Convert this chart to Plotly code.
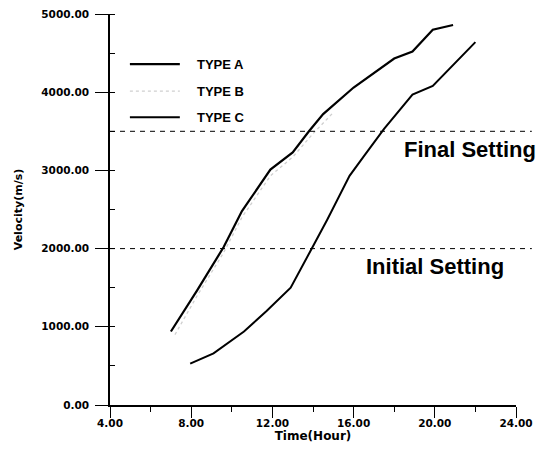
import plotly.graph_objects as go

# ---- data ----
type_a_x = [7.0, 8.3, 9.6, 10.5, 11.9, 13.0, 13.8, 14.5, 16.0, 16.8, 18.0, 18.9, 19.9, 20.9]
type_a_y = [940, 1470, 2020, 2480, 3010, 3230, 3500, 3720, 4060, 4210, 4430, 4520, 4800, 4860]

type_b_x = [7.2, 8.3, 9.6, 10.5, 11.9, 13.0, 14.0, 15.0]
type_b_y = [900, 1400, 1950, 2400, 2930, 3170, 3470, 3740]

type_c_x = [7.95, 9.1, 10.6, 11.7, 12.9, 13.4, 14.0, 14.7, 15.8, 16.5, 17.5, 18.9, 19.9, 22.0]
type_c_y = [530, 660, 940, 1200, 1500, 1750, 2030, 2370, 2930, 3180, 3530, 3970, 4080, 4640]

series_names = ["TYPE A", "TYPE B", "TYPE C"]
setting_values = [3500, 2000]
setting_labels = ["Final Setting", "Initial Setting"]
x_range = [4, 24]
y_range = [0, 5000]

TICK_FONT = dict(family="DejaVu Sans", size=10.5, color="black", weight="bold")

fig = go.Figure()
styles = [
    dict(color="black", width=2.2),
    dict(color="#cfcfcf", width=1.3, dash="dot"),
    dict(color="black", width=2.0),
]
for name, xs, ys, st in zip(series_names, [type_a_x, type_b_x, type_c_x],
                            [type_a_y, type_b_y, type_c_y], styles):
    fig.add_trace(go.Scatter(x=xs, y=ys, mode="lines", name=name, line=st,
                             showlegend=False))

# Horizontal setting lines (paper coords derived from the y range)
for v in setting_values:
    yp = (v - y_range[0]) / (y_range[1] - y_range[0])
    fig.add_shape(type="line", xref="paper", yref="paper", x0=0, x1=1.039,
                  y0=yp, y1=yp, line=dict(color="black", width=1, dash="5px,5px"))

# Setting labels
fig.add_annotation(x=18.38, y=3269, xref="x", yref="y", text=setting_labels[0],
                   showarrow=False, xanchor="left", yanchor="middle",
                   font=dict(family="Liberation Sans", size=22, color="black", weight="bold"))
fig.add_annotation(x=16.51, y=1769, xref="x", yref="y", text=setting_labels[1],
                   showarrow=False, xanchor="left", yanchor="middle",
                   font=dict(family="Liberation Sans", size=22, color="black", weight="bold"))

# Manual legend
leg_rows = [0.872, 0.803, 0.736]
for name, st, yy in zip(series_names, styles, leg_rows):
    fig.add_shape(type="line", xref="paper", yref="paper", x0=0.049, x1=0.172,
                  y0=yy, y1=yy, line=st)
    fig.add_annotation(x=0.209, y=yy, xref="paper", yref="paper", text=name,
                       showarrow=False, xanchor="left", yanchor="middle",
                       font=dict(family="Liberation Sans", size=13, color="black", weight="bold"))

# page body has an 8px default margin -> compensate
fig.update_layout(
    width=540, height=445,
    margin=dict(l=102, r=32, t=6, b=48),
    plot_bgcolor="white", paper_bgcolor="white",
    showlegend=False,
)
fig.update_xaxes(
    range=x_range, tick0=4, dtick=4, tickformat=".2f", automargin=False,
    ticklabeloverflow="allow", ticklabelstandoff=-3,
    showline=True, linecolor="black", linewidth=1.5,
    ticks="outside", ticklen=11, tickwidth=1.3, tickcolor="black",
    minor=dict(dtick=2, ticks="outside", ticklen=5, tickwidth=1.3, tickcolor="black"),
    showgrid=False, zeroline=False, tickfont=TICK_FONT,
    title=dict(text="Time(Hour)", standoff=0,
               font=dict(family="DejaVu Sans", size=12, color="black", weight="bold")),
)
fig.update_yaxes(
    range=y_range, tick0=0, dtick=1000, tickformat=".2f", automargin=False,
    ticklabeloverflow="allow",
    showline=True, linecolor="black", linewidth=1.5,
    ticks="outside", ticklen=13, tickwidth=1.3, tickcolor="black", ticklabelstandoff=4,
    minor=dict(dtick=500, ticks="inside", ticklen=5, tickwidth=1.3, tickcolor="black"),
    showgrid=False, zeroline=False, tickfont=TICK_FONT,
    title=dict(text="Velocity(m/s)", standoff=16,
               font=dict(family="DejaVu Sans", size=11, color="black", weight="bold")),
)

fig.write_html("out.html")
